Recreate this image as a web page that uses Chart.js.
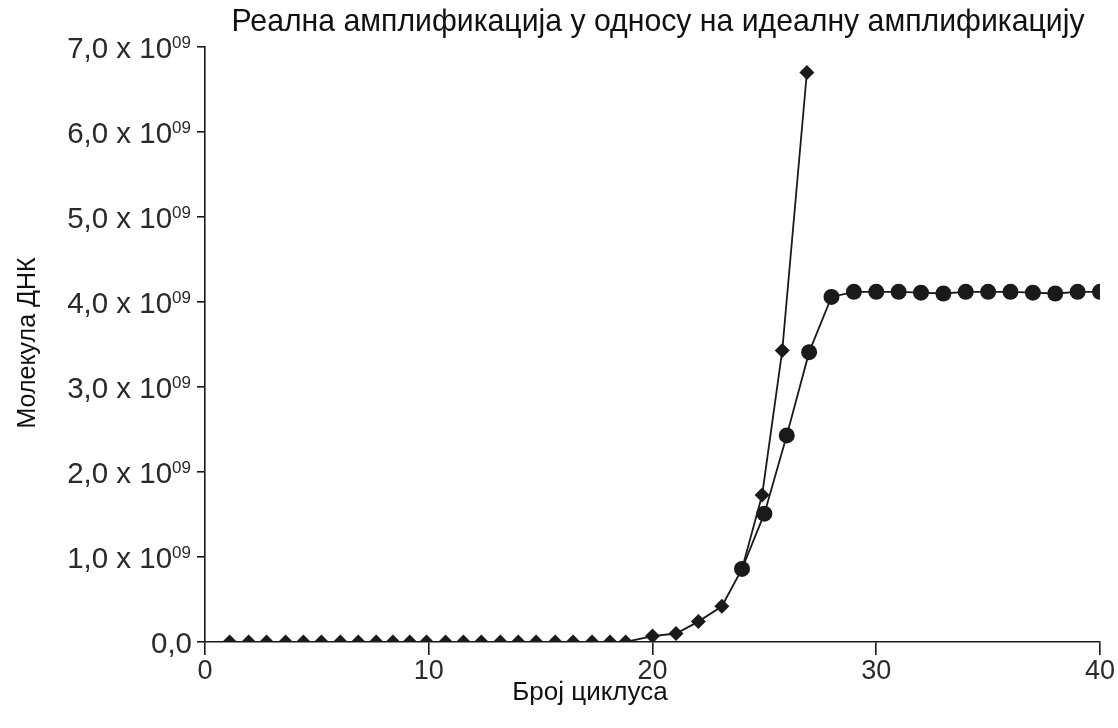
<!DOCTYPE html>
<html>
<head>
<meta charset="utf-8">
<script src="https://cdn.jsdelivr.net/npm/chart.js@4/dist/chart.umd.min.js"></script>
<style>
  html, body { margin: 0; padding: 0; background: #ffffff; }
  #wrap { width: 1118px; height: 728px; }
</style>
</head>
<body>
<div id="wrap"><canvas id="c" width="1118" height="728"></canvas></div>
<script>
// Texts
const chartTitle = 'Реална амплификација у односу на идеалну амплификацију';
const xAxisTitle = 'Број циклуса';
const yAxisTitle = 'Молекула ДНК';

// Axis ticks (molecules are given in units of 10^9)
const xTickValues = [0, 10, 20, 30, 40];
const yTickMantissas = ['0,0', '1,0', '2,0', '3,0', '4,0', '5,0', '6,0', '7,0'];
const yTickPower = '09';

// Ideal amplification (diamonds)
const idealCycles = [1.1, 1.95, 2.75, 3.6, 4.4, 5.2, 6.05, 6.85, 7.65, 8.4, 9.15, 9.9,
                     10.75, 11.55, 12.35, 13.2, 14.0, 14.8, 15.65, 16.45, 17.3, 18.1, 18.8,
                     20, 21.05, 22.05, 23.1, 24, 24.9, 25.8, 26.9];
const idealMolecules = [0, 0, 0, 0, 0, 0, 0, 0, 0, 0, 0, 0,
                        0, 0, 0, 0, 0, 0, 0, 0, 0, 0, 0,
                        0.07, 0.10, 0.24, 0.42, 0.86, 1.73, 3.43, 6.70];

// Real amplification (circles)
const realCycles = [24, 25, 26, 27, 28, 29, 30, 31, 32, 33, 34, 35, 36, 37, 38, 39, 40];
const realMolecules = [0.86, 1.51, 2.43, 3.41, 4.06, 4.12, 4.12, 4.12, 4.11, 4.10, 4.12,
                       4.12, 4.12, 4.11, 4.10, 4.12, 4.12];

const ink = '#1a1a1a';
const font = "'Liberation Sans', Arial, Helvetica, sans-serif";

const toPoints = (xs, ys) => xs.map((x, i) => ({ x: x, y: ys[i] }));

// Y tick labels of the form "7,0 x 10^09", with a raised exponent
const yLabels = {
  id: 'yLabels',
  afterDraw(chart) {
    const ctx = chart.ctx;
    const scale = chart.scales.y;
    const right = scale.right - 8 - 6;
    const mainSize = 29.5;
    const supSize = 17;
    ctx.save();
    ctx.fillStyle = '#2a2a2a';
    ctx.textBaseline = 'alphabetic';
    ctx.textAlign = 'right';
    yTickMantissas.forEach((m, i) => {
      const y = scale.getPixelForValue(i);
      const base = y + mainSize * 0.716 / 2;
      if (i === 0) {
        ctx.font = mainSize + 'px ' + font;
        ctx.fillText(m, right + 1, base);
        return;
      }
      ctx.font = supSize + 'px ' + font;
      const supW = ctx.measureText(yTickPower).width;
      ctx.fillText(yTickPower, right, y + 0.5);
      ctx.font = mainSize + 'px ' + font;
      ctx.fillText(m + ' x 10', right - supW, base);
    });
    ctx.restore();
  }
};

// Title and axis captions
const captions = {
  id: 'captions',
  afterDraw(chart) {
    const ctx = chart.ctx;
    ctx.save();
    ctx.fillStyle = '#111';
    ctx.textBaseline = 'middle';
    ctx.textAlign = 'center';

    // chart title, set in a condensed face
    ctx.font = "32px 'Liberation Sans Narrow', 'Liberation Sans', Arial, sans-serif";
    const w = ctx.measureText(chartTitle).width;
    const squeeze = 853 / w;
    ctx.save();
    ctx.translate(658, 22);
    ctx.scale(squeeze, 1);
    ctx.fillText(chartTitle, 0, 0);
    ctx.restore();

    // x axis caption
    ctx.font = '26px ' + font;
    ctx.fillText(xAxisTitle, 590, 693);

    // y axis caption
    ctx.save();
    ctx.translate(28, 343);
    ctx.rotate(-Math.PI / 2);
    ctx.font = '25px ' + font;
    ctx.fillText(yAxisTitle, 0, 0);
    ctx.restore();

    ctx.restore();
  }
};

new Chart(document.getElementById('c'), {
  type: 'line',
  data: {
    datasets: [
      {
        label: 'Реална амплификација',
        data: toPoints(realCycles, realMolecules),
        order: 0,
        borderColor: ink,
        borderWidth: 1.8,
        pointStyle: 'circle',
        pointRadius: 8,
        pointBackgroundColor: ink,
        pointBorderColor: ink,
        pointBorderWidth: 0,
        tension: 0,
        fill: false
      },
      {
        label: 'Идеална амплификација',
        data: toPoints(idealCycles, idealMolecules),
        order: 1,
        borderColor: ink,
        borderWidth: 1.8,
        pointStyle: 'rectRot',
        pointRadius: 7.5,
        pointBackgroundColor: ink,
        pointBorderColor: ink,
        pointBorderWidth: 0,
        tension: 0,
        fill: false
      }
    ]
  },
  options: {
    responsive: false,
    animation: false,
    devicePixelRatio: 1,
    layout: { padding: { top: 47, right: 18, left: 0, bottom: 0 } },
    plugins: {
      legend: { display: false },
      title: { display: false },
      tooltip: { enabled: false }
    },
    scales: {
      x: {
        type: 'linear',
        min: 0,
        max: 40,
        afterFit(scale) { scale.height = 86; },
        afterBuildTicks(scale) { scale.ticks = xTickValues.map(v => ({ value: v })); },
        ticks: {
          color: '#2a2a2a',
          font: { family: font, size: 27 },
          padding: 0,
          maxRotation: 0
        },
        grid: {
          drawOnChartArea: false,
          drawTicks: true,
          tickLength: 13,
          color: ink,
          lineWidth: 1.6
        },
        border: { color: ink, width: 1.6 }
      },
      y: {
        type: 'linear',
        min: 0,
        max: 7,
        afterFit(scale) { scale.width = 205; },
        ticks: {
          stepSize: 1,
          font: { family: font, size: 12 },
          callback: () => ''
        },
        grid: {
          drawOnChartArea: false,
          drawTicks: true,
          tickLength: 8,
          color: ink,
          lineWidth: 1.6
        },
        border: { color: ink, width: 1.6 }
      }
    }
  },
  plugins: [yLabels, captions]
});
</script>
</body>
</html>
